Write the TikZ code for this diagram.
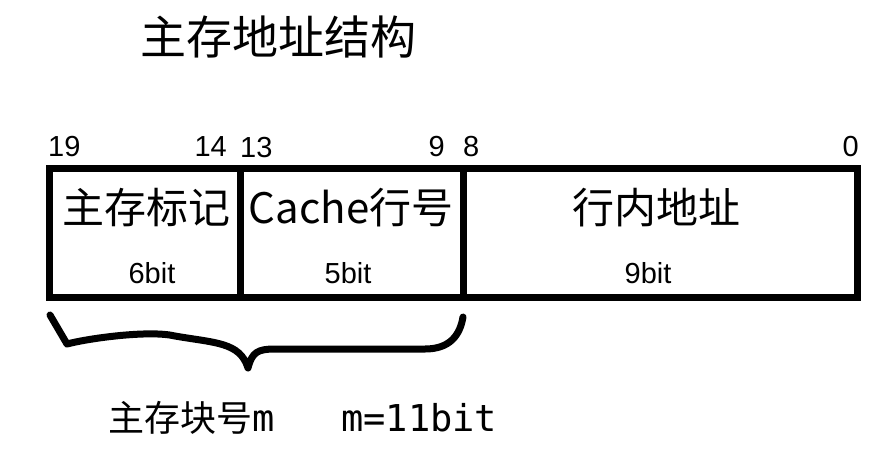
\documentclass[tikz,border=0pt]{standalone}
\usepackage{fontspec}
\setmainfont{Liberation Sans}
\newfontfamily\cjk{Noto Sans CJK SC}
\newfontfamily\monof{DejaVu Sans Mono}
\begin{document}
\begin{tikzpicture}[x=1pt,y=-1pt,
  field/.style={draw=black,line width=7pt,inner sep=0pt,outer sep=0pt,minimum height=128.5pt},
  bitnum/.style={inner sep=0pt,font=\fontsize{29}{33}\selectfont},
  bitwidth/.style={inner sep=0pt,anchor=base,font=\fontsize{29}{33}\selectfont},
  fieldname/.style={inner sep=0pt,font=\cjk\fontsize{42}{48}\selectfont},
  bracestyle/.style={line width=7pt,line cap=round,line join=round}]
\useasboundingbox (0,0) rectangle (874,458);
% title
\node[inner sep=0pt,font=\cjk\fontsize{46}{52}\selectfont] (title) at (278,37) {主存地址结构};
% fields
\node[field,minimum width=191pt] (tag) at (144.5,232.75) {};
\node[field,minimum width=223pt] (line) at (351.5,232.75) {};
\node[field,minimum width=394pt] (offset) at (660,232.75) {};
% field names
\node[fieldname] (tagname) at (146.7,208) {主存标记};
\node[fieldname] (linename) at (351,208) {Cache行号};
\node[fieldname] (offsetname) at (656,208) {行内地址};
% widths
\node[bitwidth] (tagw) at (152,283) {6bit};
\node[bitwidth] (linew) at (348,283) {5bit};
\node[bitwidth] (offsetw) at (648,283) {9bit};
% bit numbers
\node[bitnum,anchor=base west] (b19) at (48,156) {19};
\node[bitnum,anchor=base east] (b14) at (227,156) {14};
\node[bitnum,anchor=base west] (b13) at (240,157) {13};
\node[bitnum,anchor=base east] (b9) at (445,156) {9};
\node[bitnum,anchor=base west] (b8) at (463,156) {8};
\node[bitnum,anchor=base east] (b0) at (859,156) {0};
% brace
\coordinate (bl) at (50,315);
\coordinate (btip) at (248,368);
\coordinate (br) at (463,317);
\draw[bracestyle] (bl) -- (67,344) .. controls (90,338) and (150,330) .. (175,336)
  .. controls (215,343) and (240,342) .. (btip)
  .. controls (252,352) and (258,349) .. (275,349) -- (425,349)
  .. controls (450,349) and (460,335) .. (br);
% block number label
\node[inner sep=0pt,anchor=base west] (blk) at (108,431)
  {{\cjk\fontsize{36}{40}\selectfont 主存块号}{\monof\fontsize{37}{40}\selectfont m\hspace{1.806em}m=11bit}};
\end{tikzpicture}
\end{document}
